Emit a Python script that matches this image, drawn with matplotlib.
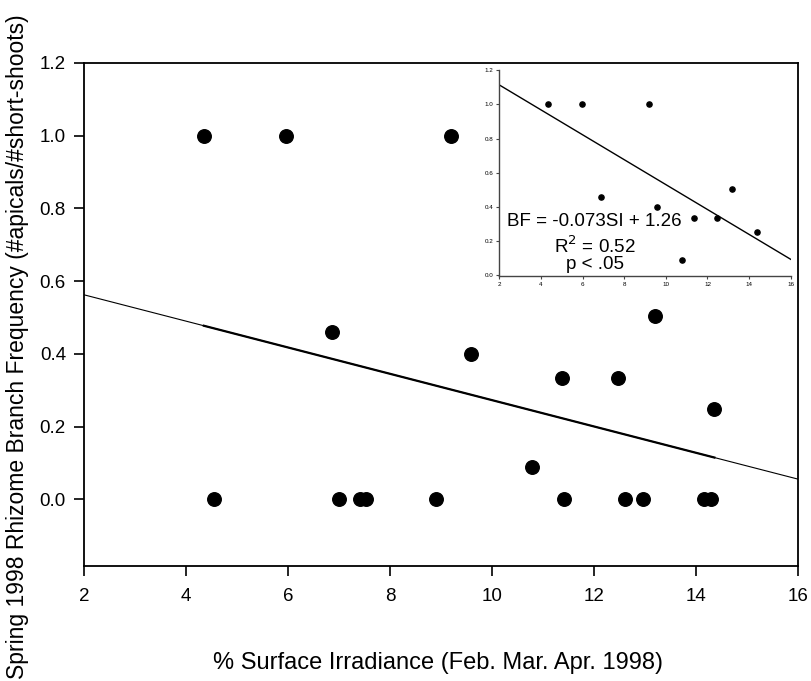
import matplotlib
matplotlib.use('Agg')
import matplotlib.pyplot as plt
import numpy as np

plt.rcParams['font.family'] = ['Liberation Sans', 'DejaVu Sans']

# points with branching > 0 (also shown in the inset)
x_pos = [4.35, 5.97, 9.20, 6.87, 9.58, 11.37, 12.47, 13.20, 14.36, 10.78]
y_pos = [1.00, 1.00, 1.00, 0.46, 0.40, 0.335, 0.335, 0.505, 0.25, 0.09]
# points with zero branching
x_zero = [4.54, 6.99, 7.41, 7.53, 8.90, 11.42, 12.61, 12.96, 14.16, 14.30]
y_zero = [0.0] * len(x_zero)

# regression lines (slope, intercept)
main_fit = [-0.0362, 0.635]
inset_fit = [-0.073, 1.26]

xticks = [2, 4, 6, 8, 10, 12, 14, 16]
yticks = [0.0, 0.2, 0.4, 0.6, 0.8, 1.0, 1.2]

fig = plt.figure(figsize=(8.11, 6.81), dpi=100)
ax = fig.add_axes([0.1036, 0.1689, 0.8804, 0.7386])

ax.scatter(x_pos + x_zero, y_pos + y_zero, s=95, color='black', zorder=3)

xs = np.array([2, 16])
ax.plot(xs, main_fit[0] * xs + main_fit[1], color='black', lw=0.8)
xd = np.array([min(x_pos + x_zero), max(x_pos + x_zero)])
ax.plot(xd, main_fit[0] * xd + main_fit[1], color='black', lw=1.6)

ax.set_xlim(2, 16)
ax.set_ylim(-0.183, 1.2)
ax.set_xticks(xticks)
ax.set_yticks(yticks)
ax.set_yticklabels(['%.1f' % v for v in yticks])
ax.tick_params(direction='out', length=7, width=1.2, labelsize=13.5)
ax.tick_params(axis='x', pad=9)
ax.tick_params(axis='y', pad=6)
for s in ax.spines.values():
    s.set_linewidth(1.3)
ax.set_xlabel('% Surface Irradiance (Feb. Mar. Apr. 1998)', fontsize=17)
ax.set_ylabel('Spring 1998 Rhizome Branch Frequency (#apicals/#short-shoots)',
              fontsize=16.5)
ax.xaxis.set_label_coords(0.496, -0.172)
ax.yaxis.set_label_coords(-0.077, 0.435)

# inset
ins = fig.add_axes([0.6157, 0.5954, 0.3593, 0.3014])
ins.scatter(x_pos, y_pos, s=14, color='black', zorder=3)
ins.plot(xs, inset_fit[0] * xs + inset_fit[1], color='black', lw=1.0)
ins.set_xlim(2, 16)
ins.set_ylim(-0.003, 1.2)
ins.set_xticks(xticks)
ins.set_yticks(yticks)
ins.set_yticklabels(['%.1f' % v for v in yticks])
ins.spines['top'].set_visible(False)
ins.spines['right'].set_visible(False)
for s in ['left', 'bottom']:
    ins.spines[s].set_color('#444444')
    ins.spines[s].set_linewidth(1.0)
ins.tick_params(direction='out', length=2.5, width=0.8, labelsize=4.5,
                color='#444444', pad=2)
ins.patch.set_alpha(0)

ins.text(6.55, 0.314, 'BF = -0.073SI + 1.26', fontsize=13.5, ha='center', va='center')
ins.text(6.6, 0.17, 'R$^2$ = 0.52', fontsize=13.5, ha='center', va='center')
ins.text(6.6, 0.06, 'p < .05', fontsize=13.5, ha='center', va='center')

fig.savefig('out.png', dpi=100)
